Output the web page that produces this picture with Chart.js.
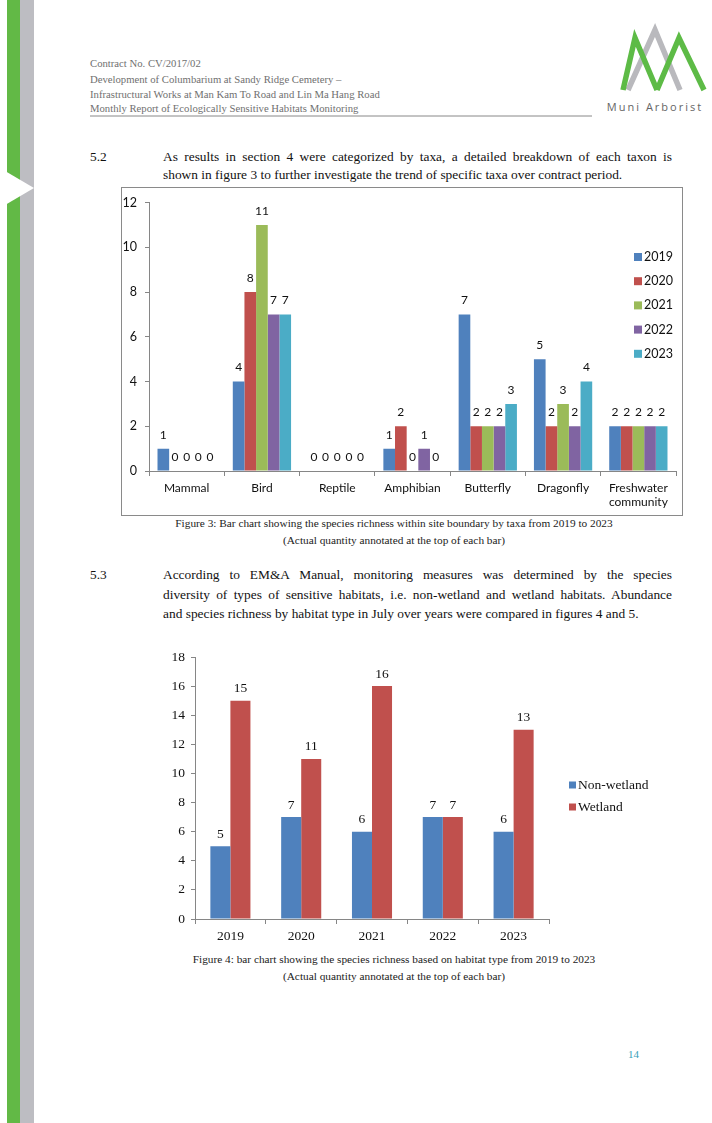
<!DOCTYPE html>
<html>
<head>
<meta charset="utf-8">
<script src="https://cdn.jsdelivr.net/npm/chart.js@4.4.1/dist/chart.umd.min.js"></script>
<style>
  body { margin: 0; width: 712px; height: 1123px; position: relative; background: #fff; overflow: hidden;
         font-family: 'Liberation Serif', 'Times New Roman', serif; }
  .t { position: absolute; white-space: nowrap; }
  .hdr { font-size: 10.7px; color: #707070; left: 90px; line-height: 14px; }
  .body { font-size: 13.4px; color: #111; line-height: 18px; }
  .j { text-align: justify; text-align-last: justify; width: 509px; }
  .cap { font-size: 11.3px; color: #222; line-height: 14px; text-align: center; width: 600px; left: 94px; }
  #box1 { position: absolute; left: 121px; top: 187px; width: 562px; height: 329px; box-sizing: border-box;
          border: 1px solid #8a8a8a; pointer-events: none; }
  canvas { position: absolute; }
</style>
</head>
<body>
<svg width="712" height="1123" style="position:absolute;left:0;top:0">
  <rect x="7" y="0" width="13" height="1123" fill="#62b946"/>
  <rect x="20" y="0" width="14" height="1123" fill="#bdbdc2"/>
  <polygon points="0,168 34,188 0,208" fill="#fff"/>
  <!-- logo -->
  <polyline points="628,90 655,30 680,90" fill="none" stroke="#b9b9bd" stroke-width="5.5"/>
  <polyline points="623,90 635,38 657,90" fill="none" stroke="#5dbb46" stroke-width="5.5"/>
  <polyline points="657,90 679,38 704,90" fill="none" stroke="#5dbb46" stroke-width="5.5"/>
  <text x="655" y="111" text-anchor="middle" font-family="Open Sans" font-size="11" letter-spacing="2" fill="#666">Muni Arborist</text>
  <line x1="90" y1="116" x2="592" y2="116" stroke="#888" stroke-width="1"/>
</svg>

<div class="t hdr" style="top:56px">Contract No. CV/2017/02</div>
<div class="t hdr" style="top:72px">Development of Columbarium at Sandy Ridge Cemetery –</div>
<div class="t hdr" style="top:87px">Infrastructural Works at Man Kam To Road and Lin Ma Hang Road</div>
<div class="t hdr" style="top:101px">Monthly Report of Ecologically Sensitive Habitats Monitoring</div>

<div class="t body" style="left:90px;top:148px">5.2</div>
<div class="t body j" style="left:163px;top:148px">As results in section 4 were categorized by taxa, a detailed breakdown of each taxon is</div>
<div class="t body" style="left:163px;top:166px">shown in figure 3 to further investigate the trend of specific taxa over contract period.</div>

<canvas id="taxaChart" width="562" height="329" style="left:121px;top:187px"></canvas>
<div id="box1"></div>

<div class="t cap" style="top:516px">Figure 3: Bar chart showing the species richness within site boundary by taxa from 2019 to 2023</div>
<div class="t cap" style="top:533px">(Actual quantity annotated at the top of each bar)</div>

<div class="t body" style="left:90px;top:566px">5.3</div>
<div class="t body j" style="left:163px;top:566px">According to EM&amp;A Manual, monitoring measures was determined by the species</div>
<div class="t body j" style="left:163px;top:586px">diversity of types of sensitive habitats, i.e. non-wetland and wetland habitats. Abundance</div>
<div class="t body" style="left:163px;top:605px">and species richness by habitat type in July over years were compared in figures 4 and 5.</div>

<canvas id="habitatChart" width="540" height="310" style="left:150px;top:640px"></canvas>

<div class="t cap" style="top:952px">Figure 4: bar chart showing the species richness based on habitat type from 2019 to 2023</div>
<div class="t cap" style="top:969px">(Actual quantity annotated at the top of each bar)</div>

<div class="t" style="left:628px;top:1048px;font-size:11px;color:#3aa0b8">14</div>

<script>
// Figura 3: riqueza por taxon e ano
const taxa = ['Mammal', 'Bird', 'Reptile', 'Amphibian', 'Butterfly', 'Dragonfly', ['Freshwater', 'community']];
const years = ['2019', '2020', '2021', '2022', '2023'];
const richness2019 = [1, 4, 0, 1, 7, 5, 2];
const richness2020 = [0, 8, 0, 2, 2, 2, 2];
const richness2021 = [0, 11, 0, 0, 2, 3, 2];
const richness2022 = [0, 7, 0, 1, 2, 2, 2];
const richness2023 = [0, 7, 0, 0, 3, 4, 2];
const taxaTicks = [0, 2, 4, 6, 8, 10, 12];

// Figura 4: riqueza por tipo de habitat
const habitatYears = ['2019', '2020', '2021', '2022', '2023'];
const nonWetland = [5, 7, 6, 7, 6];
const wetland = [15, 11, 16, 7, 13];
const habitatTicks = [0, 2, 4, 6, 8, 10, 12, 14, 16, 18];

const yearColors = ['#4f81bd', '#c0504d', '#9bbb59', '#8064a2', '#4bacc6'];
const axisColor = '#868686';
const sans = 'Lato';
const serif = 'Liberation Serif';

// rótulo com o valor acima de cada barra (inclusive zeros)
function valueLabels(font, offset) {
    return {
        id: 'valueLabels',
        afterDatasetsDraw(chart) {
            const { ctx } = chart;
            ctx.save();
            ctx.font = font;
            ctx.fillStyle = '#111';
            ctx.textAlign = 'center';
            ctx.textBaseline = 'middle';
            chart.data.datasets.forEach((ds, i) => {
                chart.getDatasetMeta(i).data.forEach((bar, j) => {
                    ctx.fillText(String(ds.data[j]), bar.x, bar.y - offset);
                });
            });
            ctx.restore();
        },
    };
}

// legenda estilo Excel: quadradinho + texto, empilhada
function boxLegend(x, y0, step, box, font) {
    return {
        id: 'boxLegend',
        afterDraw(chart) {
            const { ctx } = chart;
            ctx.save();
            ctx.font = font;
            ctx.textBaseline = 'middle';
            chart.data.datasets.forEach((ds, i) => {
                const y = y0 + i * step;
                ctx.fillStyle = ds.backgroundColor;
                ctx.fillRect(x, y - box / 2, box, box);
                ctx.fillStyle = '#111';
                ctx.fillText(ds.label, x + box + 2, y);
            });
            ctx.restore();
        },
    };
}

const fixedTicks = (list) => (scale) => { scale.ticks = list.map((v) => ({ value: v })); };

new Chart(document.getElementById('taxaChart'), {
    type: 'bar',
    data: {
        labels: taxa,
        datasets: [richness2019, richness2020, richness2021, richness2022, richness2023].map((d, i) => ({
            label: years[i],
            data: d,
            backgroundColor: yearColors[i],
            borderWidth: 0,
            categoryPercentage: 0.774,
            barPercentage: 1,
        })),
    },
    options: {
        responsive: false,
        animation: false,
        layout: { padding: { left: 0, top: 15, right: 7, bottom: 0 } },
        plugins: { legend: { display: false }, tooltip: { enabled: false } },
        scales: {
            x: {
                grid: { offset: true, drawOnChartArea: false, tickLength: 5, color: axisColor },
                border: { color: axisColor },
                ticks: { font: { family: sans, size: 12 }, color: '#111', padding: 5, maxRotation: 0, autoSkip: false },
                afterFit: (s) => { s.height = 45; },
            },
            y: {
                min: 0,
                max: 12,
                afterBuildTicks: fixedTicks(taxaTicks),
                grid: { drawOnChartArea: false, tickLength: 4, color: axisColor },
                border: { color: axisColor },
                ticks: { font: { family: sans, size: 12.5 }, color: '#111', padding: 8 },
                afterFit: (s) => { s.width = 28; },
            },
        },
    },
    plugins: [valueLabels('12px Lato', 14), boxLegend(513, 70, 24.2, 8, '12.5px Lato')],
});

new Chart(document.getElementById('habitatChart'), {
    type: 'bar',
    data: {
        labels: habitatYears,
        datasets: [
            { label: 'Non-wetland', data: nonWetland, backgroundColor: yearColors[0] },
            { label: 'Wetland', data: wetland, backgroundColor: yearColors[1] },
        ].map((d) => ({ ...d, borderWidth: 0, categoryPercentage: 0.566, barPercentage: 1 })),
    },
    options: {
        responsive: false,
        animation: false,
        layout: { padding: { left: 0, top: 17, right: 141, bottom: 0 } },
        plugins: { legend: { display: false }, tooltip: { enabled: false } },
        scales: {
            x: {
                grid: { offset: true, drawOnChartArea: false, tickLength: 5, color: axisColor },
                border: { color: axisColor },
                ticks: { font: { family: serif, size: 13.5 }, color: '#111', padding: 4 },
                afterFit: (s) => { s.height = 31; },
            },
            y: {
                min: 0,
                max: 18,
                afterBuildTicks: fixedTicks(habitatTicks),
                grid: { drawOnChartArea: false, tickLength: 4, color: axisColor },
                border: { color: axisColor },
                ticks: { font: { family: serif, size: 13.5 }, color: '#111', padding: 6 },
                afterFit: (s) => { s.width = 45; },
            },
        },
    },
    plugins: [valueLabels("13.5px 'Liberation Serif'", 12), boxLegend(419, 145, 22, 7, "13.5px 'Liberation Serif'")],
});
</script>
</body>
</html>
